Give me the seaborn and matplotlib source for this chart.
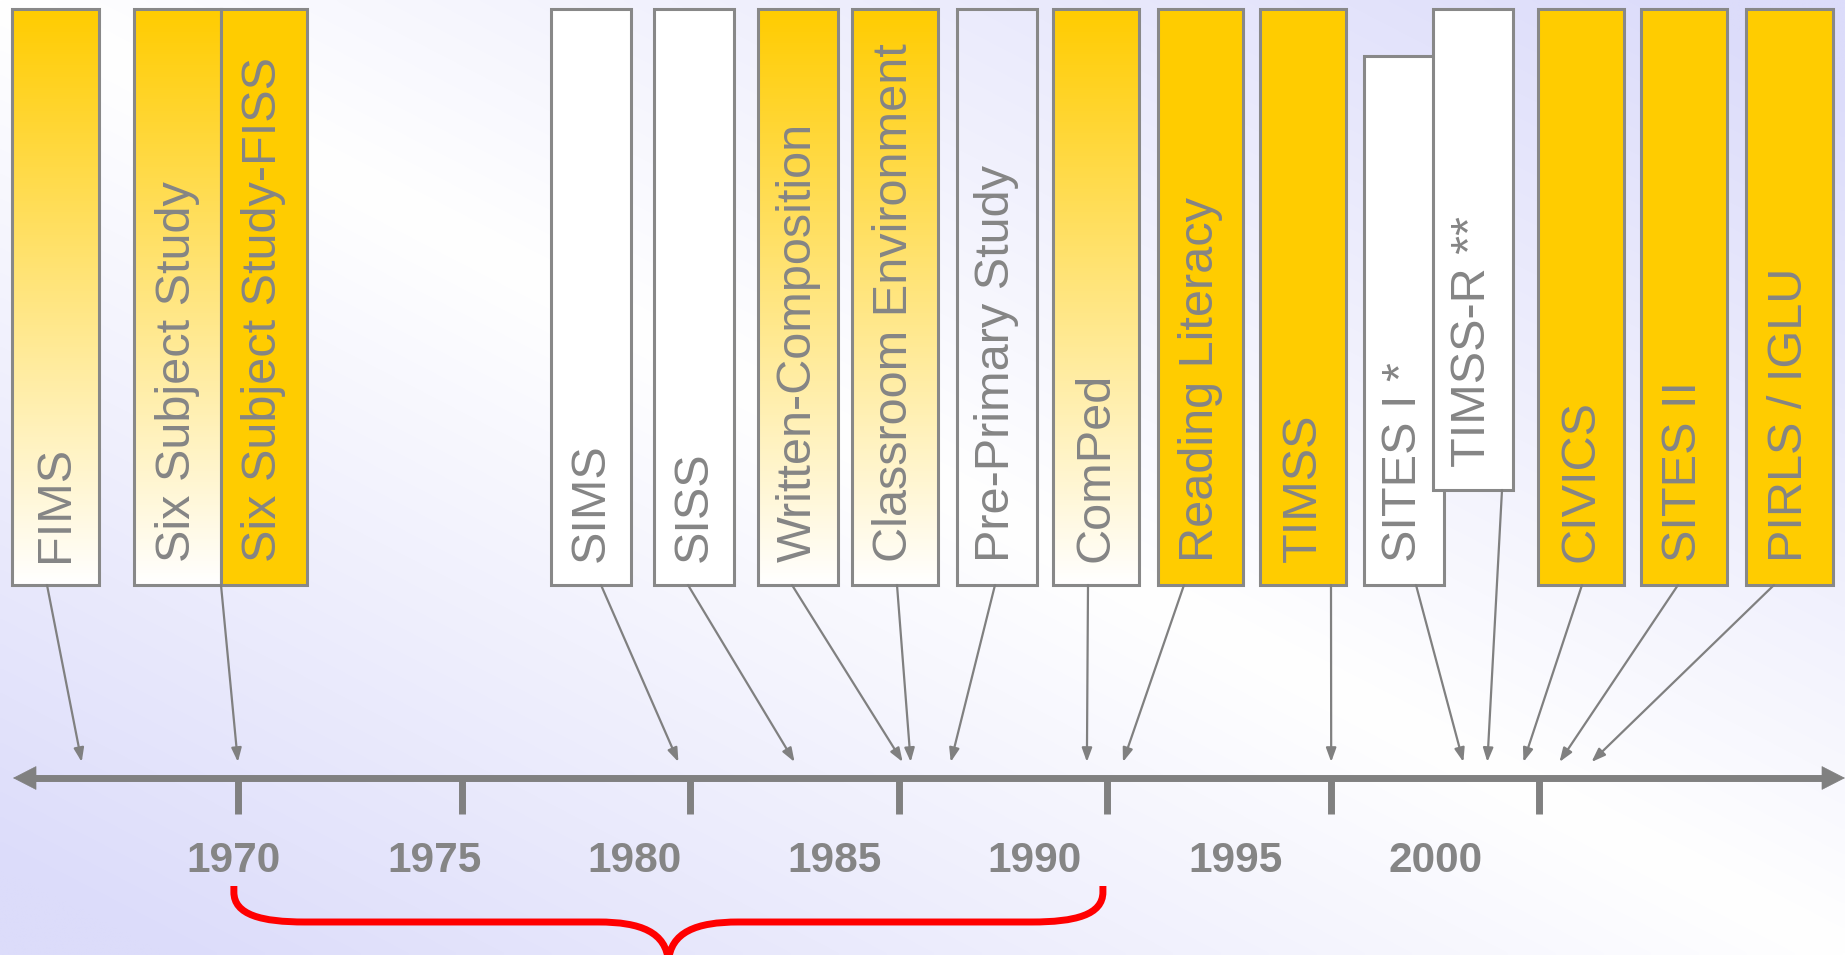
import numpy as np
import matplotlib
matplotlib.use("Agg")
import matplotlib.pyplot as plt
import seaborn as sns
from matplotlib.patches import Rectangle, PathPatch
from matplotlib.path import Path

sns.set_style("white")
plt.rcParams['font.family'] = ['Liberation Sans', 'DejaVu Sans']

# --- data -------------------------------------------------------------
studies = ["FIMS", "Six Subject Study", "Six Subject Study-FISS", "SIMS", "SISS",
           "Written-Composition", "Classroom Environment", "Pre-Primary Study",
           "ComPed", "Reading Literacy", "TIMSS", "SITES I *", "TIMSS-R **",
           "CIVICS", "SITES II", "PIRLS / IGLU"]
study_year = [1966.2, 1970.1, 1970.1, 1981.1, 1984.0, 1986.7, 1986.9, 1987.9,
              1991.3, 1992.2, 1997.4, 2000.7, 2001.3, 2002.2, 2003.1, 2003.9]
fill_kind = ["fade", "fade", "gold", "white", "white", "fade", "fade", "none",
             "fade", "gold", "gold", "white", "white", "gold", "gold", "gold"]
label_years = [1970, 1975, 1980, 1985, 1990, 1995, 2000]
tick_years = [1970.1, 1975.7, 1981.4, 1986.6, 1991.8, 1997.4, 2002.6]
brace_span = (1970.0, 1991.7)

# --- layout (pixels of the 1845x955 canvas) ----------------------------
W, H = 1845, 955
box_left = [12, 134, 221, 551, 654, 758, 852, 957, 1053, 1158, 1260, 1364, 1433, 1538, 1641, 1746]
box_right = [99, 221, 307, 631, 734, 838, 938, 1037, 1139, 1243, 1346, 1444, 1513, 1624, 1727, 1833]
box_top = [9] * 11 + [56, 9] + [9] * 3
box_bottom = [585] * 12 + [490] + [585] * 3
arrow_from = [47, 221, None, 601, 688, 792, 897, 995, 1088, 1184, 1331, 1416, 1502, 1582, 1678, 1774]
axis_y, tip_y = 778, 762

X0, X1 = 1964.16, 2010.23


def px(p):
    return X0 + p * (X1 - X0) / W


GOLD = np.array([255, 204, 0]) / 255
GRAY = "#858585"
EDGE = "#888888"

fig = plt.figure(figsize=(W / 100, H / 100), dpi=100)
ax = fig.add_axes([0, 0, 1, 1])

# background: lavender corners, white along the diagonal
u, v = np.meshgrid(np.linspace(0, 1, 400), np.linspace(0, 1, 220))
d = np.clip(np.abs(v - u) * 1.1, 0, 1)[..., None]
lav = np.array([220, 220, 250]) / 255
ax.imshow(np.ones(3) * (1 - d) + lav * d, extent=(X0, X1, H, 0), origin="upper",
          aspect="auto", zorder=0, interpolation="bilinear")

# boxes
g = np.linspace(0, 1, 256)[:, None, None]
fade_img = GOLD * (1 - g) + np.ones(3) * g
for i, name in enumerate(studies):
    l, r = px(box_left[i]), px(box_right[i])
    t, b = box_top[i], box_bottom[i]
    z = 2 + i * 0.1
    kind = fill_kind[i]
    if kind == "fade":
        ax.imshow(fade_img, extent=(l, r, b, t), origin="upper", aspect="auto", zorder=z)
        fc = "none"
    elif kind == "gold":
        fc = GOLD
    elif kind == "white":
        fc = "white"
    else:
        fc = "none"
    ax.add_patch(Rectangle((l, t), r - l, b - t, facecolor=fc, edgecolor=EDGE,
                           lw=2.2, zorder=z + 0.01))
    ax.text((l + r) / 2, b - 23, name, rotation=90, ha="center", va="bottom",
            fontsize=35, color=GRAY, zorder=z + 0.02)
    if arrow_from[i] is not None:
        ax.annotate("", xy=(study_year[i], tip_y), xytext=(px(arrow_from[i]), b),
                    arrowprops=dict(arrowstyle="-|>,head_length=0.55,head_width=0.2",
                                    mutation_scale=15, color="#808080", lw=1.6,
                                    shrinkA=0, shrinkB=0), zorder=5)

# timeline axis
ax.hlines(axis_y, px(30), px(1830), color="#808080", lw=5, zorder=4)
for a, b_ in [(px(45), px(13)), (px(1815), px(1845))]:
    ax.annotate("", xy=(b_, axis_y), xytext=(a, axis_y),
                arrowprops=dict(arrowstyle="-|>,head_length=1.6,head_width=0.82",
                                mutation_scale=10, color="#808080", lw=0.5,
                                shrinkA=0, shrinkB=0), zorder=4)
ax.vlines(tick_years, axis_y, 814, color="#808080", lw=5, zorder=4)
for yr in label_years:
    ax.text(yr, 861, str(yr), ha="center", va="center", fontsize=30.5,
            fontweight="bold", color=GRAY, zorder=4)

# red brace under the years
bl, br = brace_span
bm = (bl + br) / 2
k = (X1 - X0) / W
verts = [(bl, 886), (bl, 892),
         (bl, 915), (bl + 28 * k, 922), (bl + 71 * k, 922),
         (bm - 70 * k, 922),
         (bm - 28 * k, 922), (bm - 2 * k, 932), (bm, 962),
         (bm + 2 * k, 932), (bm + 28 * k, 922), (bm + 70 * k, 922),
         (br - 71 * k, 922),
         (br - 28 * k, 922), (br, 915), (br, 892),
         (br, 886)]
codes = [Path.MOVETO, Path.LINETO,
         Path.CURVE4, Path.CURVE4, Path.CURVE4,
         Path.LINETO,
         Path.CURVE4, Path.CURVE4, Path.CURVE4,
         Path.CURVE4, Path.CURVE4, Path.CURVE4,
         Path.LINETO,
         Path.CURVE4, Path.CURVE4, Path.CURVE4,
         Path.LINETO]
ax.add_patch(PathPatch(Path(verts, codes), facecolor="none", edgecolor="#FF0000",
                       lw=5, capstyle="butt", zorder=4))

ax.set_xlim(X0, X1)
ax.set_ylim(H, 0)
ax.axis("off")
fig.savefig("out.png", dpi=100)
